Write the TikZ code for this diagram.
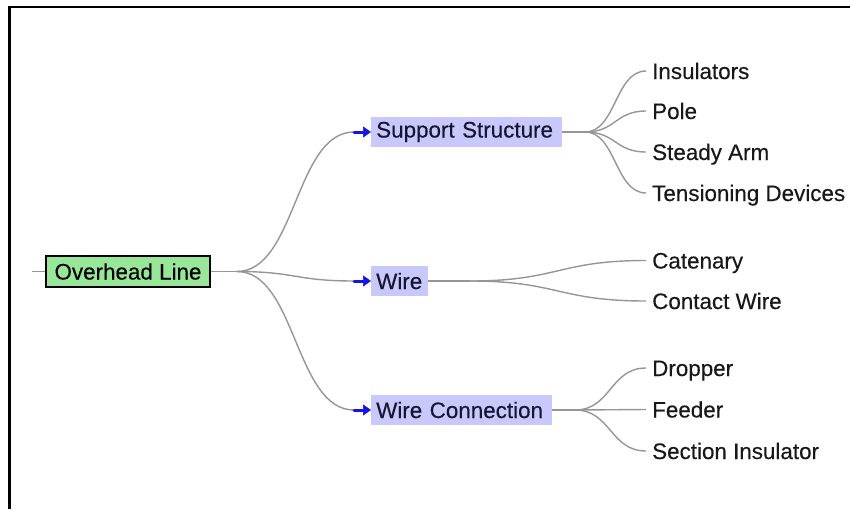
\documentclass[tikz,border=0pt]{standalone}
\usepackage{fontspec}
\setmainfont{Liberation Sans}
\newfontfamily\diagfont{Liberation Sans}[FakeBold=0.3]
\usetikzlibrary{arrows.meta}

\definecolor{rootgreen}{RGB}{152,230,152}
\definecolor{midlav}{RGB}{200,200,252}
\definecolor{linkgray}{RGB}{150,150,150}
\definecolor{arrowblue}{RGB}{20,20,230}
\definecolor{leafink}{RGB}{24,24,24}
\definecolor{midink}{RGB}{22,22,48}

\tikzset{
  rootbox/.style={draw=black, line width=2pt, fill=rootgreen, text=black,
    minimum width=164pt, minimum height=31pt, inner sep=0pt},
  midbox/.style={fill=midlav, text=midink, anchor=west, inner xsep=5pt,
    inner ysep=0pt, minimum height=30pt, align=left},
  leaf/.style={anchor=west, text=leafink, inner xsep=6pt, inner ysep=0pt,
    text height=16pt, text depth=0pt},
  link/.style={draw=linkgray, line width=1.4pt},
  pointer/.style={draw=arrowblue, line width=3pt, line cap=round,
    -{Triangle[length=8pt,width=11pt,line width=0.5pt]}},
  frameline/.style={draw=black, line width=2.2pt}
}

\begin{document}
\begin{tikzpicture}[x=1pt, y=-1pt, font=\diagfont\fontsize{22.4}{26}\selectfont]
  \useasboundingbox (0,0) rectangle (850,509);

  % outer frame (top and left edges)
  \draw[frameline] (9.5,509) -- (9.5,6.8) -- (850,6.8);

  % root
  \node[rootbox] (root) at (128,271.5) {Overhead Line};
  \coordinate (stub) at (32,271.5);
  \coordinate (rootfork) at (237,271.5);
  \draw[link] (stub) -- (root.west);
  \draw[link] (root.east) -- (rootfork);

  % second level
  \node[midbox, text width=181pt] (ss) at (371,132) {Support Structure};
  \node[midbox, text width=47pt]  (wi) at (371,281) {Wire};
  \node[midbox, text width=171pt] (wc) at (371,410) {Wire Connection};

  \coordinate (ssin) at (354,132);
  \coordinate (wiin) at (354,281);
  \coordinate (wcin) at (354,410);

  \draw[link] (rootfork) .. controls +(59,0) and +(-59,0) .. (ssin);
  \draw[link] (rootfork) .. controls +(59,0) and +(-59,0) .. (wiin);
  \draw[link] (rootfork) .. controls +(59,0) and +(-59,0) .. (wcin);

  \draw[pointer] (ssin) -- (ss.west);
  \draw[pointer] (wiin) -- (wi.west);
  \draw[pointer] (wcin) -- (wc.west);

  % leaves
  \node[leaf] (l1) at (646,71)  {Insulators};
  \node[leaf] (l2) at (646,111) {Pole};
  \node[leaf] (l3) at (646,152) {Steady Arm};
  \node[leaf] (l4) at (646,193) {Tensioning Devices};
  \node[leaf] (l5) at (646,260.5) {Catenary};
  \node[leaf] (l6) at (646,301) {Contact Wire};
  \node[leaf] (l7) at (646,368) {Dropper};
  \node[leaf] (l8) at (646,409.5) {Feeder};
  \node[leaf] (l9) at (646,451) {Section Insulator};

  % forks towards the leaves
  \coordinate (ssfork) at (585,132);
  \coordinate (wifork) at (470,281);
  \coordinate (wcfork) at (575,410);

  \draw[link] (ss.east) -- (ssfork);
  \draw[link] (wi.east) -- (wifork);
  \draw[link] (wc.east) -- (wcfork);

  \foreach \leafname in {l1,l2,l3,l4}
    \draw[link] (ssfork) .. controls +(31,0) and +(-31,0) .. (\leafname.west);
  \foreach \leafname in {l5,l6}
    \draw[link] (wifork) .. controls +(88,0) and +(-88,0) .. (\leafname.west);
  \foreach \leafname in {l7,l8,l9}
    \draw[link] (wcfork) .. controls +(36,0) and +(-36,0) .. (\leafname.west);
\end{tikzpicture}
\end{document}
